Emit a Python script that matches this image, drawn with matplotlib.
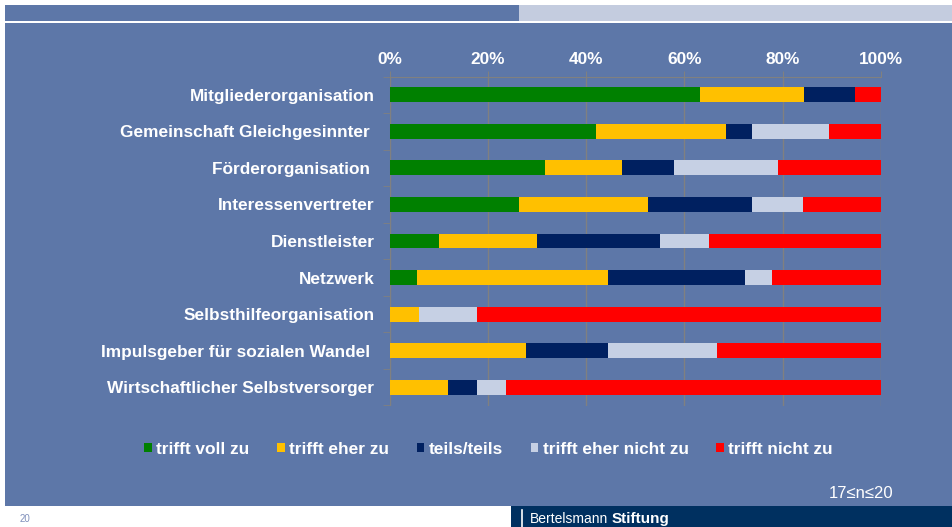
import matplotlib
matplotlib.use('Agg')
from matplotlib import pyplot as plt
from matplotlib.patches import Rectangle
import numpy as np

plt.rcParams['font.family'] = ['Liberation Sans', 'DejaVu Sans']

categories = ['Mitgliederorganisation', 'Gemeinschaft Gleichgesinnter ', 'Förderorganisation ',
              'Interessenvertreter', 'Dienstleister', 'Netzwerk', 'Selbsthilfeorganisation',
              'Impulsgeber für sozialen Wandel ', 'Wirtschaftlicher Selbstversorger']
series = ['trifft voll zu', 'trifft eher zu', 'teils/teils', 'trifft eher nicht zu', 'trifft nicht zu']
voll = [63.2, 42.1, 31.6, 26.3, 10.0, 5.6, 0.0, 0.0, 0.0]
eher = [21.1, 26.3, 15.8, 26.3, 20.0, 38.9, 5.9, 27.8, 11.8]
teils = [10.5, 5.3, 10.5, 21.1, 25.0, 27.8, 0.0, 16.7, 5.9]
eher_nicht = [0.0, 15.8, 21.1, 10.5, 10.0, 5.6, 11.8, 22.2, 5.9]
nicht = [5.3, 10.5, 21.1, 15.8, 35.0, 22.2, 82.4, 33.3, 76.5]
colors = ['#008000', '#FFC000', '#002060', '#C6D0E4', '#FF0000']
xticks = [0, 20, 40, 60, 80, 100]

panel = '#5D77A8'
W, H = 953, 527
fig = plt.figure(figsize=(W / 100, H / 100), dpi=100)

def px_rect(x0, y0, x1, y1, color):
    fig.patches.append(Rectangle((x0 / W, 1 - y1 / H), (x1 - x0) / W, (y1 - y0) / H,
                                 transform=fig.transFigure, facecolor=color, edgecolor='none', zorder=-5))

# background pieces
px_rect(5, 5, 519, 21, panel)
px_rect(519, 5, 953, 21, '#C4CCDF')
px_rect(5, 22.5, 953, 506, panel)
px_rect(511, 506, 953, 527, '#003060')
fig.lines.append(plt.Line2D([522 / W, 522 / W], [0, 1 - 510 / H], transform=fig.transFigure,
                            color='white', lw=1.2))

ax = fig.add_axes([389.7 / W, 1 - 405.5 / H, 491 / W, 329 / H])
ax.patch.set_alpha(0)

y = np.arange(len(categories))
left = np.zeros(len(categories))
for name, vals, c in zip(series, [voll, eher, teils, eher_nicht, nicht], colors):
    vals = np.array(vals)
    ax.barh(y, vals, left=left, height=0.41, color=c, label=name, zorder=3)
    left += vals

ax.set_xlim(0, 100)
ax.set_ylim(len(categories) - 0.5, -0.5)
ax.set_xticks(xticks)
ax.set_xticklabels([f'{t}%' for t in xticks], fontsize=12.4, fontweight='bold', color='white')
ax.xaxis.tick_top()
ax.tick_params(axis='x', length=4, color='#808080', pad=3)
ax.set_yticks(y)
ax.set_yticklabels(categories, fontsize=12.4, fontweight='bold', color='white')
ax.set_yticks(np.arange(len(categories) + 1) - 0.5, minor=True)
ax.tick_params(axis='y', which='major', length=0, pad=11)
ax.tick_params(axis='y', which='minor', length=5, color='#808080')
ax.grid(axis='x', color='#808080', lw=1, zorder=0)
for s in ['right', 'bottom']:
    ax.spines[s].set_visible(False)
ax.spines['left'].set_color('#808080')
ax.spines['top'].set_color('#808080')

leg = fig.legend(loc='center', bbox_to_anchor=(488.5 / W, 1 - 449 / H), ncol=5, frameon=False,
                 handlelength=0.45, handleheight=0.45, handletextpad=0.25, columnspacing=1.6,
                 prop={'size': 12.4, 'weight': 'bold'})
for t in leg.get_texts():
    t.set_color('white')

fig.text(893 / W, 1 - 494 / H, '17≤n≤20', ha='right', va='center', fontsize=12, color='white')
fig.text(20 / W, 1 - 519 / H, '20', ha='left', va='center', fontsize=7, color='#8090BB')
fig.text(530 / W, 1 - 519 / H, 'Bertelsmann', ha='left', va='center', fontsize=10, color='white')
fig.text(612 / W, 1 - 519 / H, 'Stiftung', ha='left', va='center', fontsize=11, color='white',
         fontweight='bold')

fig.savefig('out.png', dpi=100, facecolor='white')
